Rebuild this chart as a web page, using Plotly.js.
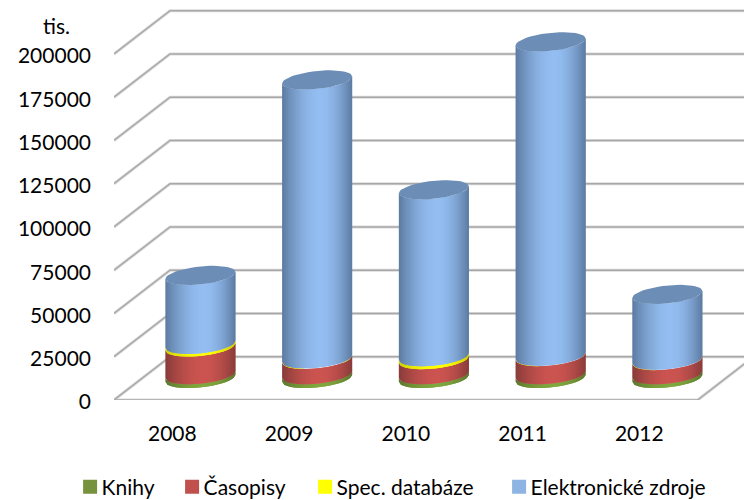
<!DOCTYPE html>
<html><head><meta charset="utf-8">
<script src="https://cdn.plot.ly/plotly-3.0.1.min.js"></script>
<style>html,body{margin:0;padding:0;background:#fff}</style></head>
<body><div id="chart" style="width:744px;height:500px"></div>
<script>
const years = ["2008","2009","2010","2011","2012"];
const knihy = [2200, 2200, 2200, 2200, 2200];
const casopisy = [16000, 8800, 8700, 10400, 8100];
const specDatabaze = [1500, 400, 1700, 300, 300];
const elektronicke = [39800, 161100, 96400, 181600, 37900];
const yTicks = [0,25000,50000,75000,100000,125000,150000,175000,200000];

const seriesList = [
  {name:"Knihy", values:knihy, swatch:"#76923C", dark:[92,118,46], light:[128,168,62], legendId:"legend", legendLeft:61.6},
  {name:"Časopisy", values:casopisy, swatch:"#C0504D", dark:[136,60,58], light:[204,84,80], legendId:"legend2", legendLeft:163.6},
  {name:"Spec. databáze", values:specDatabaze, swatch:"#FFFF00", dark:[205,205,0], light:[255,255,0], legendId:"legend3", legendLeft:296.6},
  {name:"Elektronické zdroje", values:elektronicke, swatch:"#8DB4E2", dark:[92,122,160], light:[148,190,242], legendId:"legend4", legendLeft:490.6}
];
const capColor = "#6C8DB6";

// depth and ellipse geometry, in axis units
const DEPTH_X = 0.48, DEPTH_Y = 25000;
const HALF_W = 0.30, TILT = 2000, MINOR = 5200;
const STRIPS = 35, LEFT = -0.5, RIGHT = 4.5, XMAX = 4.897, YMAX = 231214;

const traces = [];
const GRID = "#a8a8a8", GRID_SOFT = "#dcdcdc";
function gridTrace(w, color){
  const x=[], y=[];
  yTicks.forEach(v=>{ x.push(LEFT,LEFT+DEPTH_X,XMAX+1,null); y.push(v,v+DEPTH_Y,v+DEPTH_Y,null); });
  x.push(LEFT,RIGHT,RIGHT+DEPTH_X); y.push(0,0,DEPTH_Y);
  return {type:"scatter",mode:"lines",x,y,line:{color,width:w},showlegend:false,hoverinfo:"skip"};
}
traces.push(gridTrace(3.2,GRID_SOFT), gridTrace(1.4,GRID));

function mix(a,b,f){return "rgb("+a.map((c,i)=>Math.round(c+(b[i]-c)*f)).join(",")+")";}
function shade(u){ // u in [-1,1]; brightest a little right of centre
  const p=0.1, d=u<p?(p-u)/(1+p):(u-p)/(1-p);
  return 1-Math.pow(d,1.8);
}
const base=years.map(()=>0);
seriesList.forEach(s=>{
  for(let k=0;k<STRIPS;k++){
    const u0=-1+2*k/STRIPS, u1=-1+2*(k+1)/STRIPS, um=(u0+u1)/2;
    const xs=[], ys=[];
    years.forEach((yr,i)=>{
      const cx=i+DEPTH_X/2, b0=base[i]+DEPTH_Y/2, b1=b0+s.values[i];
      const edge=u=>[cx+HALF_W*u, u*TILT-MINOR*Math.sqrt(Math.max(0,1-u*u))];
      const us=[u0,u1,Math.min(1,u1+2/STRIPS)].map(edge);
      const top=us.map(p=>[p[0],b1+p[1]]).reverse(), bot=us.map(p=>[p[0],b0+p[1]]);
      bot.concat(top,[bot[0]]).forEach(p=>{xs.push(p[0]);ys.push(p[1]);});
      xs.push(null);ys.push(null);
    });
    traces.push({type:"scatter",mode:"lines",x:xs,y:ys,fill:"toself",
      fillcolor:mix(s.dark,s.light,shade(um)),line:{width:0},showlegend:false,hoverinfo:"skip"});
  }
  years.forEach((yr,i)=>{base[i]+=s.values[i];});
});
// top caps
{
  const xs=[],ys=[];
  years.forEach((yr,i)=>{
    const cx=i+DEPTH_X/2, top=base[i]+DEPTH_Y/2;
    for(let a=0;a<=48;a++){
      const t=a/48*2*Math.PI, c=Math.cos(t), sn=Math.sin(t);
      xs.push(cx+HALF_W*c); ys.push(top+c*TILT+sn*MINOR);
    }
    xs.push(null); ys.push(null);
  });
  traces.push({type:"scatter",mode:"lines",x:xs,y:ys,fill:"toself",fillcolor:capColor,line:{width:0},showlegend:false,hoverinfo:"skip"});
}
const font={family:"Lato, Carlito, sans-serif",size:21,color:"#000"};
const layout={
  width:744,height:500,margin:{l:114,r:0,t:0,b:100,autoexpand:false},paper_bgcolor:"#fff",plot_bgcolor:"#fff",font,
  showlegend:true,
  xaxis:{automargin:false,range:[LEFT,XMAX],tickmode:"array",tickvals:years.map((y,i)=>i),ticktext:years,showgrid:false,zeroline:false,showline:false,ticks:"",ticklabelstandoff:19,tickfont:font},
  yaxis:{automargin:false,range:[0,YMAX],tickmode:"array",tickvals:yTicks,ticktext:yTicks.map(String),showgrid:false,zeroline:false,showline:false,ticks:"",ticklabelstandoff:22,ticklabelshift:2,tickfont:font},
  annotations:[{text:"tis.",xref:"paper",yref:"paper",x:-0.0905,y:0.935,xanchor:"center",yanchor:"middle",showarrow:false,font}]
};
// one legend per entry, so each entry sits where the reference has it
seriesList.forEach(s=>{
  traces.push({type:"scatter",mode:"markers",x:[null],y:[null],name:s.name,legend:s.legendId,
    marker:{symbol:"square",size:14,color:s.swatch},showlegend:true,hoverinfo:"skip"});
  layout[s.legendId]={x:(s.legendLeft-114)/630,y:-0.2175,xanchor:"left",yanchor:"middle",font,itemwidth:30,bgcolor:"rgba(0,0,0,0)"};
});
Plotly.newPlot("chart",traces,layout,{displayModeBar:false,staticPlot:true}).then(()=>{
  document.querySelectorAll(".legendsymbols").forEach(g=>g.setAttribute("transform","translate(8.5,0)"));
});
</script></body></html>
